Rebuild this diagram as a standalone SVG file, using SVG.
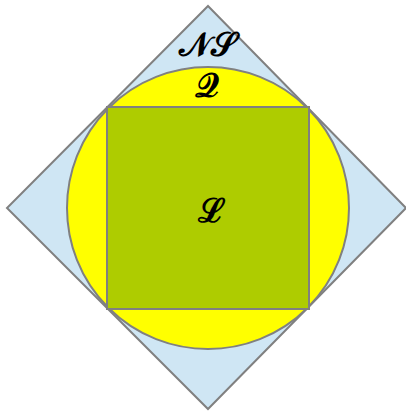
<svg xmlns="http://www.w3.org/2000/svg" width="406" height="411" viewBox="0 0 406 411">
<style>
.sh{stroke:#808080;stroke-width:2}
.lb{font-family:"DejaVu Serif","Liberation Serif",serif;font-weight:bold;font-size:33px;fill:#000;text-anchor:middle}
</style>
<g id="NS">
<polygon class="sh" points="208,6 406,208 208,409 7,208" fill="#cfe6f4"/>
<text class="lb" x="208" y="56">𝒩𝒮</text>
</g>
<g id="Q">
<circle class="sh" cx="208" cy="208" r="141" fill="#ffff00"/>
<text class="lb" x="207" y="97">𝒬</text>
</g>
<g id="L">
<rect class="sh" x="107" y="107" width="202" height="202" fill="#aecc00"/>
<text class="lb" x="211" y="222">ℒ</text>
</g>
<g id="connectors"/>
</svg>
